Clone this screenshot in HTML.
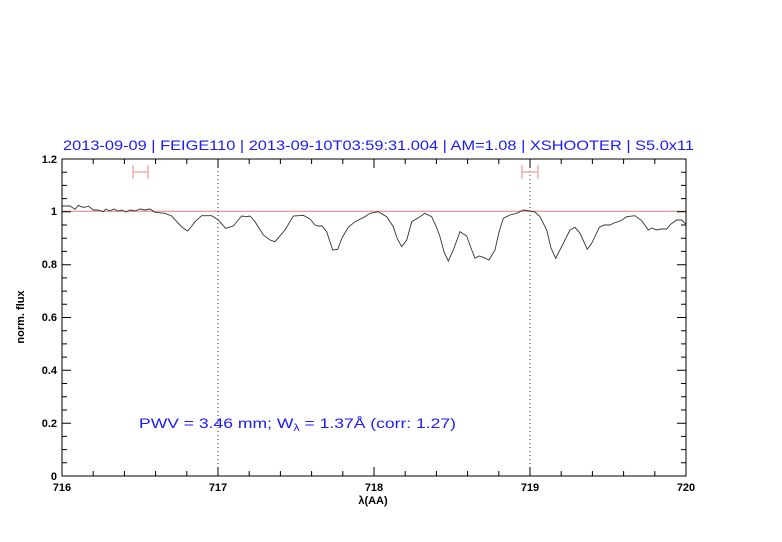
<!DOCTYPE html>
<html><head><meta charset="utf-8"><style>
html,body{margin:0;padding:0;background:#fff;}
svg{display:block;}
text{font-family:"Liberation Sans",sans-serif;}
</style></head><body>
<svg width="782" height="542" viewBox="0 0 782 542" xmlns="http://www.w3.org/2000/svg">
<rect width="782" height="542" fill="#fff"/>
<text x="63" y="150" font-size="14" fill="#1a1aff" textLength="631" lengthAdjust="spacingAndGlyphs">2013-09-09 | FEIGE110 | 2013-09-10T03:59:31.004 | AM=1.08 | XSHOOTER | S5.0x11</text>
<line x1="62" y1="211.3" x2="686" y2="211.3" stroke="#d98080" stroke-width="1"/>
<line x1="218" y1="159" x2="218" y2="476" stroke="#333" stroke-dasharray="1,3" stroke-width="1"/>
<line x1="530" y1="159" x2="530" y2="476" stroke="#333" stroke-dasharray="1,3" stroke-width="1"/>
<g stroke="#f5a0a0" stroke-width="1.3">
<line x1="133" y1="172" x2="148" y2="172"/><line x1="133" y1="165" x2="133" y2="179"/><line x1="148" y1="165" x2="148" y2="179"/>
<line x1="522" y1="172" x2="538" y2="172"/><line x1="522" y1="165" x2="522" y2="179"/><line x1="538" y1="165" x2="538" y2="179"/>
</g>
<polyline fill="none" stroke="#333" stroke-width="0.9" points="62,206 70,206 73,208 75,209.3 78.3,205.3 82,207 85,207.3 88.3,206 93.3,210 98,210 103.3,211.7 106,209 110,211 114,209 118,211 122,210 126,212 130,210 135,211 140,209 145,210 150,209 155,212.3 165,213.3 171.7,216 178.3,223.3 183,228 187.7,231 191,227 195,221.7 201.7,215.7 211.7,215.7 218.3,220 225.7,228.3 233.3,226 238.3,220 241.7,216 246.7,216.7 250,216 255,221.7 263.3,235 270,240 275,241.7 285,230 293.3,216 303.3,215.3 310,219 315,225 318.3,226 322,226 326.7,231.7 332.7,250 337.7,249.3 342,238 348.3,227.3 355,221.7 365,216.7 370,213.3 378.3,211.7 386.7,216.7 393.3,226.7 397,238 401.7,246.7 406.7,240 411.7,221.7 420,216.7 425,213.3 431.7,216.7 436,226 440,236.7 444,252 448.3,261 453.3,250 460,231.7 466.7,236 471,248 475,258.3 479,256 483.3,257.3 489,260 495,250 499,232 503.3,218.3 510,215 516.7,213.3 523.3,210 530,211 535,212 540,216.7 546.7,230 551,248 555.7,258.3 563.3,243.3 570,230 575,227.3 580,233.3 587.3,249.3 591.7,243.3 599.3,227.3 604,225 610,225 614,223 618.3,221.7 622,220 626.7,216.7 635,215.7 641.7,220.7 648.3,230 652,228 656.7,230 661,229 666.7,229 671,224 676.7,220 681.7,220 685,223.3 686,224"/>
<rect x="62" y="159" width="624" height="317" fill="none" stroke="#000" stroke-width="1"/>
<g stroke="#000" stroke-width="1">
<path d="M62,476v-9M218,476v-9M374,476v-9M530,476v-9M686,476v-9 M62,159v9M218,159v9M374,159v9M530,159v9M686,159v9
M93.2,476v-5M124.4,476v-5M155.6,476v-5M186.8,476v-5M249.2,476v-5M280.4,476v-5M311.6,476v-5M342.8,476v-5M405.2,476v-5M436.4,476v-5M467.6,476v-5M498.8,476v-5M561.2,476v-5M592.4,476v-5M623.6,476v-5M654.8,476v-5
M93.2,159v5M124.4,159v5M155.6,159v5M186.8,159v5M249.2,159v5M280.4,159v5M311.6,159v5M342.8,159v5M405.2,159v5M436.4,159v5M467.6,159v5M498.8,159v5M561.2,159v5M592.4,159v5M623.6,159v5M654.8,159v5"/>
<path d="M62,476h9M62,423.2h9M62,370.3h9M62,317.5h9M62,264.7h9M62,211.8h9M62,159h9
M686,476h-9M686,423.2h-9M686,370.3h-9M686,317.5h-9M686,264.7h-9M686,211.8h-9M686,159h-9
M62,462.8h5M62,449.6h5M62,436.4h5M62,410h5M62,396.7h5M62,383.5h5M62,357.1h5M62,343.9h5M62,330.7h5M62,304.3h5M62,291.1h5M62,277.9h5M62,251.4h5M62,238.2h5M62,225h5M62,198.6h5M62,185.4h5M62,172.2h5
M686,462.8h-5M686,449.6h-5M686,436.4h-5M686,410h-5M686,396.7h-5M686,383.5h-5M686,357.1h-5M686,343.9h-5M686,330.7h-5M686,304.3h-5M686,291.1h-5M686,277.9h-5M686,251.4h-5M686,238.2h-5M686,225h-5M686,198.6h-5M686,185.4h-5M686,172.2h-5"/>
</g>
<g font-size="11" fill="#000" text-anchor="end" font-weight="bold">
<text x="57" y="480">0</text><text x="57" y="427">0.2</text><text x="57" y="374">0.4</text><text x="57" y="321">0.6</text><text x="57" y="268">0.8</text><text x="57" y="215">1</text><text x="57" y="163">1.2</text>
</g>
<g font-size="11" fill="#000" text-anchor="middle" font-weight="bold">
<text x="62" y="491">716</text><text x="218" y="491">717</text><text x="374" y="491">718</text><text x="530" y="491">719</text><text x="686" y="491">720</text>
<text x="373" y="504">λ(AA)</text>
</g>
<text transform="translate(24,317) rotate(-90)" font-size="11" font-weight="bold" text-anchor="middle" fill="#000">norm. flux</text>
<text x="139" y="428" font-size="14" fill="#1a1aff" textLength="317" lengthAdjust="spacingAndGlyphs">PWV = 3.46 mm; W<tspan font-size="10" dy="3">λ</tspan><tspan dy="-3"> = 1.37Å (corr: 1.27)</tspan></text>
</svg>
</body></html>
